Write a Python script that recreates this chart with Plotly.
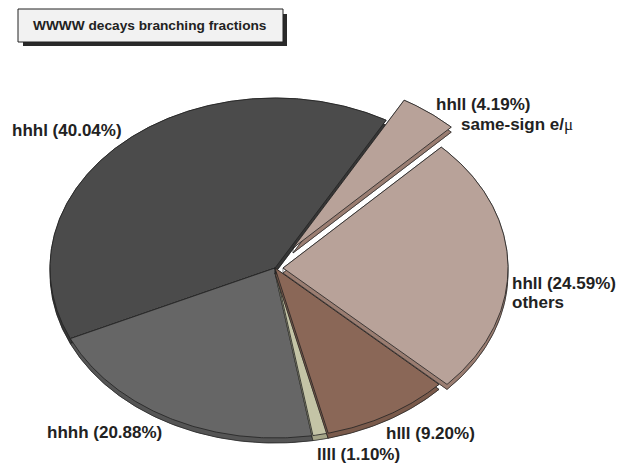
import numpy as np
import plotly.graph_objects as go

labels = ["hhhl", "hhhh", "llll", "hlll", "hhll others", "hhll same-sign"]
values = [40.04, 20.88, 1.10, 9.20, 24.59, 4.19]
top_colors = ["#4b4b4b", "#666666", "#c4c4a6", "#8a6757", "#b8a299", "#b8a299"]
side_colors = ["#363636", "#555555", "#a5a588", "#7a5a4b", "#9a7d71", "#9a7d71"]
explode_dx = [0, 0, 0, 0, 8, 18]
explode_dy = [0, 0, 0, 0, 0, -20]

CX, CY, RX, RY, DEPTH = 275, 268, 225, 170, 5
START_DEG = 29.6  # clockwise from top; slices run counter-clockwise

def outline(a0, a1, cx, cy):
    t = np.radians(np.linspace(a0, a1, max(int(abs(a1 - a0) * 2), 3)))
    x = cx + RX * np.sin(t)
    y = cy - RY * np.cos(t)
    return np.r_[cx, x, cx], np.r_[cy, y, cy]

fig = go.Figure()
edges = START_DEG - np.cumsum([0] + values) * 3.6
edge = "#222222"
for i in [0, 1, 2, 3, 5, 4]:
    a0, a1 = edges[i], edges[i + 1]
    cx, cy = CX + explode_dx[i], CY + explode_dy[i]
    x, y = outline(a0, a1, cx, cy)
    sx = np.r_[x, x[::-1]]
    sy = np.r_[y, y[::-1] + DEPTH]
    fig.add_trace(go.Scatter(x=sx, y=sy, mode="lines", fill="toself",
                             fillcolor=side_colors[i],
                             line=dict(color=edge, width=0.6),
                             hoverinfo="skip", showlegend=False))
    fig.add_trace(go.Scatter(x=x, y=y + DEPTH, mode="lines", fill="toself",
                             fillcolor=side_colors[i],
                             line=dict(color=edge, width=0.6),
                             hoverinfo="skip", showlegend=False))
    fig.add_trace(go.Scatter(x=x, y=y, mode="lines", fill="toself",
                             fillcolor=top_colors[i],
                             line=dict(color=edge, width=0.8),
                             hoverinfo="skip", showlegend=False, name=labels[i]))

FONT = "Liberation Sans"
texts = [
    ("<b>hhhl (40.04%)</b>", 11, 130),
    ("<b>hhll (4.19%)</b>", 435, 104),
    ("<b>same-sign e/</b><span style=\"font-family:'Liberation Serif'\">μ</span>", 460, 124),
    ("<b>hhll (24.59%)</b>", 511, 283),
    ("<b>others</b>", 511, 302),
    ("<b>hlll (9.20%)</b>", 385, 433),
    ("<b>llll (1.10%)</b>", 316, 454),
    ("<b>hhhh (20.88%)</b>", 46, 432),
]
for t, x, y in texts:
    fig.add_annotation(x=x, y=y, text=t, showarrow=False, xanchor="left", yanchor="middle",
                       xshift=-1, font=dict(family=FONT, size=17, color="#222222"))

fig.add_annotation(x=150, y=25, text="<b>WWWW decays branching fractions</b>", showarrow=False,
                   font=dict(family=FONT, size=13.7, color="#222222"))
shapes = [
    dict(type="rect", x0=23, y0=14, x1=287, y1=46, fillcolor="#2a2a2a", line=dict(width=0), layer="below"),
    dict(type="rect", x0=18, y0=9, x1=283, y1=42, fillcolor="#f2f2f2", line=dict(color="#222222", width=1), layer="below"),
]
fig.update_layout(
    width=619, height=463, margin=dict(l=0, r=0, t=0, b=0), autosize=False,
    paper_bgcolor="white", plot_bgcolor="white", showlegend=False, shapes=shapes,
    xaxis=dict(range=[0, 619], visible=False, fixedrange=True),
    yaxis=dict(range=[463, 0], visible=False, fixedrange=True),
)
fig.write_html("out.html", config=dict(displayModeBar=False),
               post_script="document.body.style.margin='0';document.body.style.overflow='hidden';")
